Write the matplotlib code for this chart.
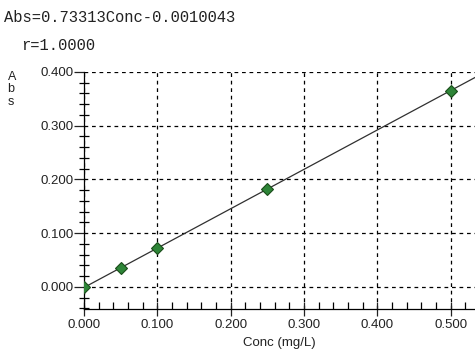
import matplotlib
matplotlib.use("Agg")
import matplotlib.pyplot as plt
import numpy as np
from matplotlib.ticker import MultipleLocator

conc = [0.0, 0.05, 0.10, 0.25, 0.50]
absorb = [0.0, 0.035, 0.072, 0.182, 0.365]
slope = 0.73313
intercept = -0.0010043
xticks = [0.0, 0.1, 0.2, 0.3, 0.4, 0.5]
yticks = [0.0, 0.1, 0.2, 0.3, 0.4]

fig = plt.figure(figsize=(4.75, 3.5), dpi=100)
ax = fig.add_axes([84/475, 41/350, 1 - 84/475, (309-72)/350])
ax.set_xlim(0.0, 0.533)
ax.set_ylim(-0.041, 0.4)

xl = np.array([0.0, 0.533])
ax.plot(xl, slope*xl + intercept, color="#303030", lw=0.9, zorder=3)
ax.plot(conc, absorb, linestyle="none", marker="D", markersize=6.5,
        markerfacecolor="#2e8538", markeredgecolor="#1a4d1a", markeredgewidth=0.8, zorder=4)

ax.set_xticks(xticks)
ax.set_xticklabels([f"{v:.3f}" for v in xticks])
ax.set_yticks(yticks)
ax.set_yticklabels([f"{v:.3f}" for v in yticks])
ax.xaxis.set_minor_locator(MultipleLocator(0.02))
ax.yaxis.set_minor_locator(MultipleLocator(0.02))
ax.tick_params(axis="x", which="major", direction="inout", length=9.5, width=0.9,
               labelsize=9.5, pad=2.5, colors="#222222")
ax.tick_params(axis="y", which="major", direction="out", length=7, width=0.9,
               labelsize=9.5, pad=0.5, colors="#222222")
ax.tick_params(axis="x", which="minor", direction="in", length=5, width=0.9)
ax.tick_params(axis="y", which="minor", direction="inout", length=7, width=0.9)
for lab in ax.get_xticklabels() + ax.get_yticklabels():
    lab.set_family("Liberation Sans")

ax.grid(True, which="major", color="black", linestyle=(0, (3, 3)), linewidth=0.9)
for s in ["top", "right"]:
    ax.spines[s].set_visible(False)
for s in ["left", "bottom"]:
    ax.spines[s].set_linewidth(0.9)

fig.text(0.5 + 42/475, 1 - 343/350, "Conc (mg/L)", fontsize=9.5, family="Liberation Sans",
         ha="center", va="center", color="#222222")
fig.text(0.016, 0.797, "A\nb\ns", fontsize=9, family="Liberation Sans",
         va="top", ha="left", linespacing=1.05, color="#222222")
fig.text(0.009, 0.949, "Abs=0.73313Conc-0.0010043", fontsize=11.2,
         family="Liberation Mono", va="center", ha="left", color="#222222")
fig.text(0.044, 0.871, "r=1.0000", fontsize=11.2,
         family="Liberation Mono", va="center", ha="left", color="#222222")

fig.savefig("out.png", dpi=100)
